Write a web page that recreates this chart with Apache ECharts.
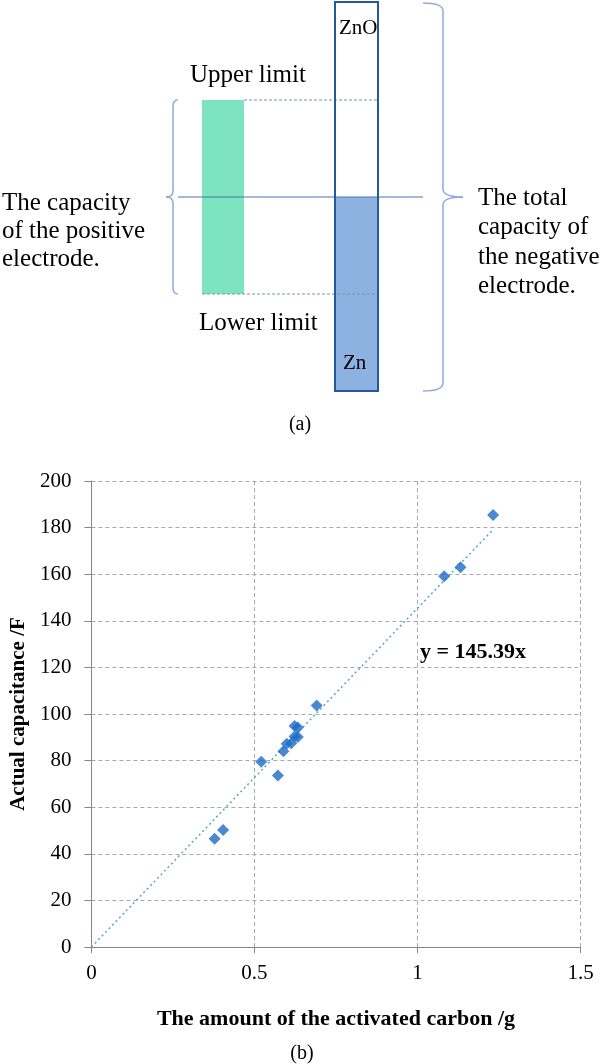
<!DOCTYPE html>
<html>
<head>
<meta charset="utf-8">
<script src="https://cdn.jsdelivr.net/npm/echarts@6/dist/echarts.min.js"></script>
<style>
html, body { margin: 0; padding: 0; background: #fff; }
#chart { width: 602px; height: 1064px; }
</style>
</head>
<body>
<div id="chart"></div>
<script>
// (b) measured points: activated carbon mass (g) vs actual capacitance (F)
var carbonMass = [0.378, 0.404, 0.521, 0.572, 0.589, 0.599, 0.613, 0.623, 0.633, 0.623, 0.633, 0.691, 1.082, 1.132, 1.232]
var capacitance = [46.5, 50.2, 79.5, 73.6, 84.0, 87.2, 87.5, 90.3, 90.1, 94.8, 94.2, 103.7, 159.1, 163.0, 185.4]
var slope = 145.39
var xTicks = [0, 0.5, 1, 1.5]
var yTicks = [0, 20, 40, 60, 80, 100, 120, 140, 160, 180, 200]

var serif = '"Liberation Serif", "Times New Roman", serif'

var points = carbonMass.map(function (x, i) {
	return [x, capacitance[i]]
})
var maxX = Math.max.apply(null, carbonMass)
var trend = [[0, 0], [maxX, slope * maxX]]

function txt(str, x, y, size, opts) {
	opts = opts || {}
	return {
		type: 'text',
		x: x,
		y: y,
		style: {
			text: str,
			font: (opts.bold ? 'bold ' : '') + size + 'px ' + serif,
			fill: '#000',
			textAlign: opts.align || 'left',
			textVerticalAlign: 'middle',
		},
	}
}

function lines(arr, x, y0, step, size) {
	return arr.map(function (s, i) {
		return txt(s, x, y0 + i * step, size)
	})
}

// brace built from quadratic curves and straight runs
var braceStyle = { stroke: '#8eaadb', lineWidth: 1.5, fill: null }
function curve(x1, y1, cx, cy, x2, y2) {
	return { type: 'bezierCurve', shape: { x1: x1, y1: y1, cpx1: cx, cpy1: cy, x2: x2, y2: y2 }, style: braceStyle }
}
function seg(x1, y1, x2, y2) {
	return { type: 'line', shape: { x1: x1, y1: y1, x2: x2, y2: y2 }, style: braceStyle }
}
function brace(xEnd, xLine, xTip, top, mid, bottom, bend) {
	return [
		curve(xEnd, top, xLine, top, xLine, top + bend),
		seg(xLine, top + bend, xLine, mid - bend),
		curve(xLine, mid - bend, xLine, mid, xTip, mid),
		curve(xTip, mid, xLine, mid, xLine, mid + bend),
		seg(xLine, mid + bend, xLine, bottom - bend),
		curve(xLine, bottom - bend, xLine, bottom, xEnd, bottom),
	]
}

// (a) schematic of electrode capacities
var diagram = [
	{ type: 'rect', shape: { x: 202, y: 100, width: 42, height: 194 }, style: { fill: '#7de3c1' } },
	{ type: 'rect', shape: { x: 335, y: 197, width: 43, height: 194 }, style: { fill: '#8db1e0' } },
	{ type: 'line', shape: { x1: 244, y1: 100, x2: 378, y2: 100 }, style: { stroke: '#7f93ab', lineWidth: 1, lineDash: [3, 2] } },
	{ type: 'line', shape: { x1: 202, y1: 294, x2: 378, y2: 294 }, style: { stroke: '#7f93ab', lineWidth: 1, lineDash: [3, 2] } },
	{ type: 'line', shape: { x1: 178, y1: 197, x2: 423, y2: 197 }, style: { stroke: '#4677a8', lineWidth: 1 } },
	{ type: 'rect', shape: { x: 335, y: 2, width: 43, height: 389 }, style: { fill: null, stroke: '#245a9b', lineWidth: 2 } },
	txt('ZnO', 339, 28, 21),
	txt('Zn', 343, 363, 21),
	txt('Upper limit', 190, 75, 25),
	txt('Lower limit', 199, 323, 25),
	txt('(a)', 300, 425, 20, { align: 'center' }),
]
diagram = diagram
	.concat(brace(178, 173, 166, 100, 197, 294, 6))
	.concat(brace(423, 443, 463, 3, 197, 391, 8))
	.concat(lines(['The capacity', 'of the positive', 'electrode.'], 2, 203.5, 28, 25))
	.concat(lines(['The total', 'capacity of', 'the negative', 'electrode.'], 478, 198, 29.5, 25))
	.concat([
		txt('y = 145.39x', 420, 652, 22, { bold: true }),
		txt('(b)', 302, 1054, 20, { align: 'center' }),
	])

var chart = echarts.init(document.getElementById('chart'))
var gridLine = { show: true, lineStyle: { color: '#a9a9a9', type: [4, 3], width: 1 } }
chart.setOption({
	animation: false,
	backgroundColor: '#fff',
	grid: { left: 88, right: 21.5, top: 481, bottom: 117 },
	xAxis: {
		type: 'value',
		min: xTicks[0],
		max: xTicks[xTicks.length - 1],
		interval: xTicks[1] - xTicks[0],
		name: 'The amount of the activated carbon /g',
		nameLocation: 'middle',
		nameGap: 61,
		nameTextStyle: { fontFamily: serif, fontWeight: 'bold', fontSize: 22, color: '#000' },
		axisLine: { lineStyle: { color: '#868686', width: 1 } },
		axisTick: { show: true, length: 6, lineStyle: { color: '#868686' } },
		axisLabel: { fontFamily: serif, fontSize: 21, color: '#000', margin: 16 },
		splitLine: gridLine,
	},
	yAxis: {
		type: 'value',
		min: yTicks[0],
		max: yTicks[yTicks.length - 1],
		interval: yTicks[1] - yTicks[0],
		name: 'Actual capacitance /F',
		nameLocation: 'middle',
		nameGap: 56,
		nameTextStyle: { fontFamily: serif, fontWeight: 'bold', fontSize: 21, color: '#000' },
		axisLine: { show: true, lineStyle: { color: '#868686', width: 1 } },
		axisTick: { show: true, length: 7, lineStyle: { color: '#868686' } },
		axisLabel: { fontFamily: serif, fontSize: 21, color: '#000', margin: 20 },
		splitLine: gridLine,
	},
	series: [
		{
			type: 'line',
			data: trend,
			symbol: 'none',
			lineStyle: { color: '#4bacc6', width: 1.5, type: [2, 3] },
			z: 2,
		},
		{
			type: 'scatter',
			data: points,
			symbol: 'diamond',
			symbolSize: 12,
			itemStyle: { color: '#1d6bc6' },
			z: 3,
		},
	],
	graphic: diagram,
})
</script>
</body>
</html>
